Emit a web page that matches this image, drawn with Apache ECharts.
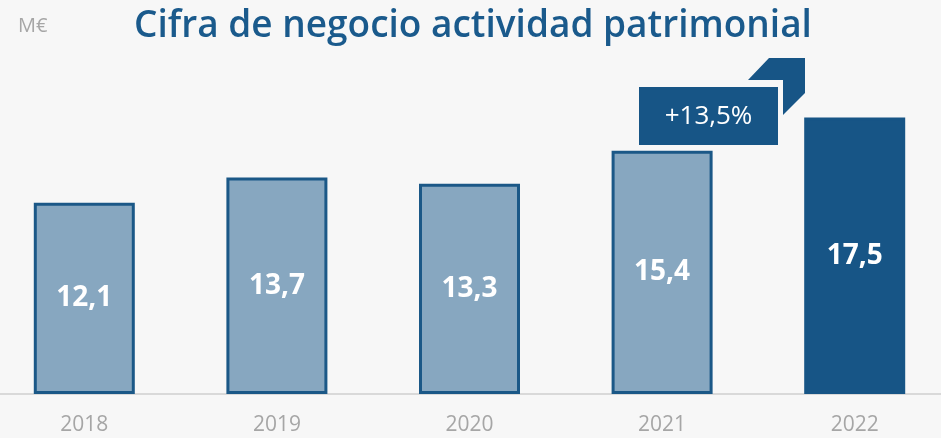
<!DOCTYPE html>
<html>
<head>
<meta charset="utf-8">
<script src="https://cdn.jsdelivr.net/npm/echarts@6/dist/echarts.min.js"></script>
<style>
  html, body { margin: 0; padding: 0; background: #f7f7f7; }
  #chart { width: 941px; height: 438px; }
</style>
</head>
<body>
<div id="chart"></div>
<script>
const years = ['2018', '2019', '2020', '2021', '2022'];
const values = [12.1, 13.7, 13.3, 15.4, 17.5];
const growthLabel = '+13,5%';

const chart = echarts.init(document.getElementById('chart'));

const option = {
  backgroundColor: '#f7f7f7',
  animation: false,
  title: {
    text: 'Cifra de negocio actividad patrimonial',
    left: 468,
    top: 3,
    textAlign: 'center',
    textStyle: {
      fontFamily: 'Open Sans',
      fontSize: 37,
      fontWeight: 600,
      color: '#1a5a8c'
    }
  },
  grid: {
    left: -12,
    right: -10,
    top: 78,
    bottom: 44,
    outerBoundsMode: 'none'
  },
  xAxis: {
    type: 'category',
    data: years,
    axisLine: { lineStyle: { color: '#d9d9d9', width: 2 } },
    axisTick: { show: false },
    axisLabel: {
      margin: 21,
      fontFamily: 'Open Sans',
      fontSize: 21,
      color: '#a6a6a6'
    }
  },
  yAxis: {
    type: 'value',
    min: 0,
    max: 20,
    show: false,
    splitLine: { show: false }
  },
  series: [
    {
      type: 'bar',
      data: values.map((v, i) => ({
        value: v,
        itemStyle: i === values.length - 1
          ? { color: '#175586', borderColor: '#175586' }
          : { color: '#87a7c0', borderColor: '#1b5887' }
      })),
      barWidth: 101,
      itemStyle: { borderWidth: 3 },
      label: {
        show: true,
        position: 'inside',
        formatter: p => String(p.value).replace('.', ','),
        fontFamily: 'Open Sans',
        fontWeight: 'bold',
        fontSize: 28,
        color: '#ffffff'
      }
    }
  ],
  graphic: [
    {
      type: 'text',
      left: 18,
      top: 16,
      style: {
        text: 'M€',
        fontFamily: 'Open Sans',
        fontSize: 20,
        fill: '#a6a6a6'
      }
    },
    {
      type: 'group',
      left: 639,
      top: 87,
      children: [
        {
          type: 'rect',
          shape: { x: 0, y: 0, width: 139, height: 58 },
          style: { fill: '#175586' }
        },
        {
          type: 'text',
          x: 69.5,
          y: 30,
          style: {
            text: growthLabel,
            align: 'center',
            verticalAlign: 'middle',
            fontFamily: 'Open Sans',
            fontSize: 26,
            fill: '#ffffff'
          }
        }
      ]
    },
    {
      type: 'polygon',
      shape: {
        points: [[769, 58], [805, 58], [805, 93], [783, 115], [783, 80], [748, 80]]
      },
      style: { fill: '#175586' }
    }
  ]
};

chart.setOption(option);
</script>
</body>
</html>
